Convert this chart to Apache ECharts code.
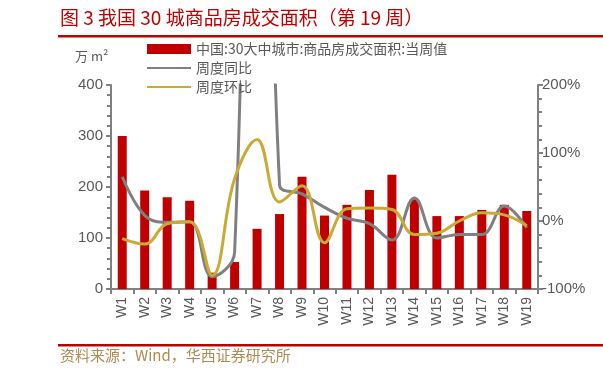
<!DOCTYPE html>
<html>
<head>
<meta charset="utf-8">
<script src="https://cdn.jsdelivr.net/npm/echarts@6/dist/echarts.min.js"></script>
<style>
  html, body { margin: 0; padding: 0; background: #fff; }
  #chart { width: 603px; height: 378px; }
</style>
</head>
<body>
<div id="chart"></div>
<script>
// 周次
const weeks = ["W1", "W2", "W3", "W4", "W5", "W6", "W7", "W8", "W9", "W10",
  "W11", "W12", "W13", "W14", "W15", "W16", "W17", "W18", "W19"];
// 商品房成交面积 当周值（万m²）
const weeklyArea = [300, 193, 180, 173, 32, 53, 118, 147, 220, 144,
  165, 194, 224, 176, 143, 143, 155, 165, 153];
// 周度同比（%），W7 超出坐标范围
const yoy = [65, 8, -2, -1, -82, -46, 1500, 53, 40, 20,
  4, -4, -28, 34, -25, -20, -20, 22, -10];
// 周度环比（%）
const mom = [-26, -34, -4, -1, -80, 62, 120, 28, 52, -32,
  18, 19, 17, -20, -18, 0, 12, 9, -7];

const chart = echarts.init(document.getElementById("chart"));
const axisGray = "#808080";
const textGray = "#595959";
const font = "'Noto Sans CJK SC', sans-serif";
const numFont = "'Liberation Sans', Arial, sans-serif";

const option = {
  animation: false,
  textStyle: { fontFamily: font },
  graphic: [
    {
      type: "text", left: 60, top: 8,
      style: { text: "图 3 我国 30 城商品房成交面积（第 19 周）", fill: "#C00000", font: "19px " + font }
    },
    {
      type: "rect", shape: { x: 58, y: 35, width: 545, height: 2.5 },
      style: { fill: "#C00000" }
    },
    {
      type: "text", left: 75, top: 50,
      style: { text: "万 m²", fill: textGray, font: "13px " + font }
    },
    {
      type: "rect", shape: { x: 58, y: 344, width: 545, height: 2.5 },
      style: { fill: "#C00000" }
    },
    {
      type: "text", left: 60, top: 348,
      style: { text: "资料来源：Wind，华西证券研究所", fill: "#B08A50", font: "15px " + font }
    }
  ],
  legend: {
    orient: "vertical",
    left: 141, top: 37,
    itemWidth: 44, itemHeight: 10, itemGap: 5,
    textStyle: { color: textGray, fontSize: 14 },
    data: [
      { name: "中国:30大中城市:商品房成交面积:当周值", icon: "rect" },
      { name: "周度同比", itemStyle: { opacity: 0 } },
      { name: "周度环比", itemStyle: { opacity: 0 } }
    ]
  },
  grid: { left: 111, right: 65, top: 85, bottom: 89 },
  xAxis: {
    type: "category",
    data: weeks,
    axisLine: { lineStyle: { color: axisGray, width: 2 } },
    axisTick: { show: true, length: 5, lineStyle: { color: axisGray, width: 2 } },
    axisLabel: { rotate: 90, interval: 0, color: textGray, fontSize: 14, fontFamily: numFont, margin: 8 }
  },
  yAxis: [
    {
      type: "value", min: 0, max: 400, interval: 100,
      axisLine: { show: true, lineStyle: { color: axisGray, width: 2 } },
      axisTick: { show: true, length: 5, lineStyle: { color: axisGray, width: 2 } },
      minorTick: { show: true, splitNumber: 5, length: 4, lineStyle: { color: axisGray, width: 2 } },
      splitLine: { show: false },
      axisLabel: { color: textGray, fontSize: 15, fontFamily: numFont, margin: 8 }
    },
    {
      type: "value", min: -100, max: 200, interval: 100,
      axisLine: { show: true, lineStyle: { color: axisGray, width: 2 } },
      axisTick: { show: true, length: 5, lineStyle: { color: axisGray, width: 2 } },
      minorTick: { show: true, splitNumber: 5, length: 4, lineStyle: { color: axisGray, width: 2 } },
      splitLine: { show: false },
      axisLabel: { color: textGray, fontSize: 15, fontFamily: numFont, margin: 4, formatter: "{value}%" }
    }
  ],
  series: [
    {
      name: "中国:30大中城市:商品房成交面积:当周值",
      type: "bar",
      data: weeklyArea,
      barWidth: 9,
      itemStyle: { color: "#C00000" }
    },
    {
      name: "周度同比",
      type: "line",
      yAxisIndex: 1,
      data: yoy,
      smooth: 0.4,
      symbol: "none",
      lineStyle: { color: "#808080", width: 3 },
      itemStyle: { color: "#808080" }
    },
    {
      name: "周度环比",
      type: "line",
      yAxisIndex: 1,
      data: mom,
      smooth: 0.4,
      symbol: "none",
      lineStyle: { color: "#C9AA35", width: 3 },
      itemStyle: { color: "#C9AA35" }
    }
  ]
};

chart.setOption(option);
</script>
</body>
</html>
